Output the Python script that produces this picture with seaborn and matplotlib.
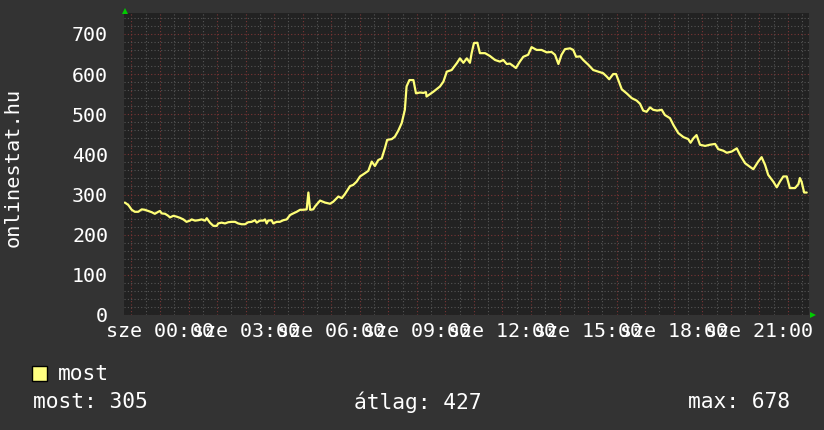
import matplotlib
matplotlib.use("Agg")
import matplotlib.pyplot as plt
from matplotlib.ticker import MultipleLocator, FuncFormatter
from matplotlib.patches import Polygon, Rectangle
import seaborn as sns
import pandas as pd

# ---- data (hours relative to 00:00, visitors "most") ----
hours = [
    -1.23, -1.11, -0.99, -0.88, -0.76, -0.64, -0.53, -0.41, -0.29, -0.18, -0.06, 0.00,
    0.06, 0.18, 0.29, 0.35, 0.47, 0.58, 0.70, 0.82, 0.93, 1.05, 1.11, 1.23, 1.34, 1.46,
    1.58, 1.64, 1.75, 1.87, 1.99, 2.04, 2.16, 2.28, 2.39, 2.51, 2.63, 2.74, 2.86, 2.98,
    3.09, 3.21, 3.33, 3.39, 3.50, 3.62, 3.68, 3.74, 3.79, 3.91, 3.97, 4.09, 4.20, 4.32,
    4.44, 4.56, 4.67, 4.79, 4.91, 5.02, 5.14, 5.20, 5.26, 5.37,
    5.43, 5.61, 5.78, 5.96, 6.07, 6.25, 6.37, 6.48, 6.66, 6.77, 6.89, 7.01, 7.18, 7.30,
    7.42, 7.53, 7.65, 7.77, 7.88, 7.96, 8.12, 8.23, 8.35, 8.47, 8.58, 8.64, 8.74, 8.88,
    8.97, 9.11, 9.23, 9.32, 9.34,
    9.58, 9.81, 9.93, 10.05, 10.22, 10.40, 10.51, 10.63, 10.75, 10.86, 10.92, 11.00,
    11.12, 11.21, 11.39, 11.56, 11.74, 11.91, 12.03, 12.15, 12.26, 12.38, 12.47, 12.61,
    12.73, 12.90, 13.02, 13.20, 13.37, 13.55, 13.72, 13.84, 13.96, 14.07, 14.19, 14.37,
    14.48, 14.58, 14.72, 14.83, 15.01, 15.18, 15.36,
    15.53, 15.65, 15.74, 15.88, 15.98, 16.06, 16.18, 16.35, 16.53, 16.70, 16.82, 16.93,
    17.05, 17.17, 17.28, 17.42, 17.58, 17.69, 17.87, 17.99, 18.16, 18.34, 18.51, 18.59,
    18.69, 18.80, 18.92, 19.10, 19.27, 19.45, 19.56, 19.74, 19.86, 20.03, 20.21, 20.32,
    20.50, 20.67, 20.79, 20.96, 21.08, 21.20, 21.31, 21.49, 21.61, 21.72, 21.84, 21.96,
    22.07, 22.25, 22.37, 22.42, 22.48, 22.57, 22.66,
]
most = [
    280, 274, 262, 257, 257, 263, 262, 259, 256, 252, 257, 259,
    253, 252, 247, 243, 247, 245, 242, 238, 232, 235, 238, 235, 236, 238,
    235, 241, 230, 222, 222, 228, 230, 228, 231, 232, 232, 228, 226, 226,
    231, 232, 236, 230, 235, 235, 238, 228, 235, 236, 228, 232, 232, 236,
    238, 249, 253, 257, 262, 262, 263, 305, 262, 263,
    270, 285, 280, 277, 282, 295, 291, 301, 321, 324, 332, 345, 353, 359,
    382, 371, 386, 390, 415, 436, 438, 444, 459, 478, 511, 569, 585, 585,
    552, 554, 553, 555, 544,
    556, 569, 581, 606, 610, 627, 639, 628, 639, 628, 652, 677,
    678, 652, 652, 645, 635, 631, 635, 625, 626, 620, 615, 631,
    643, 648, 667, 660, 660, 654, 655, 648, 625, 648, 662, 664,
    660, 643, 644, 635, 623, 610, 606,
    602, 594, 587, 600, 600, 585, 562, 552, 540, 534, 526, 509,
    506, 517, 511, 509, 511, 498, 490, 473, 453, 443, 438, 429,
    440, 448, 424, 421, 424, 426, 413, 409, 404, 407, 415, 399,
    378, 369, 363, 382, 393, 374, 349, 332, 318, 332, 345, 345,
    316, 316, 326, 341, 332, 305, 305,
]
y_ticks = [0, 100, 200, 300, 400, 500, 600, 700]
day_name = "sze"
y_label = "onlinestat.hu"
legend_name = "most"
stats = ["most: 305", "átlag: 427", "max: 678"]

# ---- style ----
sns.set_theme(style="dark")
plt.rcParams["font.family"] = ["DejaVu Sans Mono", "DejaVu Sans"]

W, H = 824, 430
fig = plt.figure(figsize=(W / 100, H / 100), dpi=100, facecolor="#333333")
L, R, T, B = 124, 809, 13, 315
ax = fig.add_axes([L / W, 1 - B / H, (R - L) / W, (B - T) / H])
ax.set_facecolor("#222222")

df = pd.DataFrame({"h": hours, "v": most})
sns.lineplot(data=df, x="h", y="v", ax=ax, color="#ffff78", linewidth=1.6,
             estimator=None, sort=False, zorder=5)

ax.set_xlim(-1.26, 22.74)
ax.set_ylim(0, 752)

ax.xaxis.set_major_locator(MultipleLocator(1))
ax.xaxis.set_minor_locator(MultipleLocator(0.5))
ax.yaxis.set_major_locator(MultipleLocator(100))
ax.yaxis.set_minor_locator(MultipleLocator(20))


def xfmt(v, pos):
    h = int(round(v))
    if h >= 0 and h % 3 == 0:
        return f"{day_name} {h:02d}:00"
    return ""


ax.xaxis.set_major_formatter(FuncFormatter(xfmt))
ax.yaxis.set_major_formatter(FuncFormatter(lambda v, p: f"{int(v)}" if v in y_ticks else ""))

dot = (0, (1, 2))
ax.grid(which="minor", color="#555555", linestyle=dot, linewidth=0.8)
ax.grid(which="major", color="#7a3535", linestyle=dot, linewidth=0.8)
ax.set_axisbelow(True)

ax.tick_params(axis="both", which="both", length=0, colors="white", labelsize=14.4)
ax.tick_params(axis="y", pad=11.5)
ax.tick_params(axis="x", pad=5)
for lab in ax.get_xticklabels() + ax.get_yticklabels():
    lab.set_color("white")

for s in ax.spines.values():
    s.set_visible(False)
ax.set_xlabel("")
ax.set_ylabel("")

# y label
fig.text(13 / W, 1 - 167 / H, y_label, rotation=90, ha="center", va="center",
         color="white", fontsize=14.6)

# green axis arrows
fig.add_artist(Polygon([[122 / W, 1 - 14 / H], [128 / W, 1 - 14 / H], [125 / W, 1 - 8 / H]],
                       closed=True, transform=fig.transFigure, color="#00cc00", lw=0))
fig.add_artist(Polygon([[810 / W, 1 - 312 / H], [810 / W, 1 - 318 / H], [816 / W, 1 - 315 / H]],
                       closed=True, transform=fig.transFigure, color="#00cc00", lw=0))

# legend
fig.add_artist(Rectangle((32 / W, 1 - 381 / H), 15 / W, 15 / H, transform=fig.transFigure,
                         facecolor="#ffff80", edgecolor="black", lw=1))
fig.text(58 / W, 1 - 374 / H, legend_name, ha="left", va="center", color="white", fontsize=15.3)
xs = [33, 354, 688]
for x, s in zip(xs, stats):
    fig.text(x / W, 1 - 402 / H, s, ha="left", va="center", color="white", fontsize=15.3)

fig.savefig("out.png", dpi=100, facecolor=fig.get_facecolor())
